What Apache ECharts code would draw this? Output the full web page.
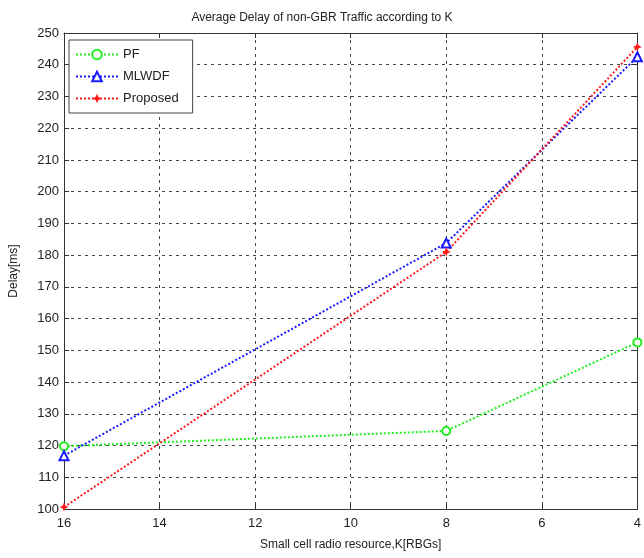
<!DOCTYPE html>
<html>
<head>
<meta charset="utf-8">
<script src="https://cdn.jsdelivr.net/npm/echarts@6/dist/echarts.min.js"></script>
<style>
  html, body { margin: 0; padding: 0; background: #fff; }
  #chart { width: 644px; height: 558px; }
</style>
</head>
<body>
<div id="chart"></div>
<script>
// Number of small cell RBGs (x) and the measured average delays (ms)
const kValues = [16, 8, 4];
const pfDelay = [119.8, 124.6, 152.5];
const mlwdfDelay = [116.8, 183.8, 242.5];
const proposedDelay = [100.6, 181.0, 245.6];

const xTicks = [16, 14, 12, 10, 8, 6, 4];
const yTicks = [100, 110, 120, 130, 140, 150, 160, 170, 180, 190, 200, 210, 220, 230, 240, 250];

const pairs = (ys) => kValues.map((k, i) => [k, ys[i]]);

const FONT = 'Liberation Sans, Arial, sans-serif';
const gridDash = { color: '#444', type: [3, 4], width: 1 };
const starPath = 'path://M0,-10 L3,-3 L10,0 L3,3 L0,10 L-3,3 L-10,0 L-3,-3 Z';

const chart = echarts.init(document.getElementById('chart'), null, { renderer: 'canvas' });

const baseX = {
  type: 'value', inverse: true,
  min: xTicks[xTicks.length - 1], max: xTicks[0], interval: 2,
  axisLine: { show: true, onZero: false, lineStyle: { color: '#333', width: 1 } },
  axisTick: { show: true, inside: true, length: 5, lineStyle: { color: '#333' } }
};
const baseY = {
  type: 'value',
  min: yTicks[0], max: yTicks[yTicks.length - 1], interval: 10,
  axisLine: { show: true, onZero: false, lineStyle: { color: '#333', width: 1 } },
  axisTick: { show: true, inside: true, length: 5, lineStyle: { color: '#333' } }
};

chart.setOption({
  animation: false,
  backgroundColor: '#fff',
  title: {
    text: 'Average Delay of non-GBR Traffic according to K',
    left: 'center', top: 7,
    textStyle: { fontFamily: FONT, fontSize: 12, fontWeight: 'normal', color: '#222' }
  },
  grid: { left: 64, right: 5, top: 33, bottom: 49, containLabel: false },
  legend: {
    orient: 'vertical', left: 69, top: 40,
    backgroundColor: '#fff', borderColor: '#444', borderWidth: 1,
    padding: [8, 14, 8, 6], itemGap: 9,
    itemWidth: 42, itemHeight: 12,
    textStyle: { fontFamily: FONT, fontSize: 13, color: '#222' },
    data: ['PF', 'MLWDF', 'Proposed']
  },
  xAxis: [
    Object.assign({}, baseX, {
      position: 'bottom',
      name: 'Small cell radio resource,K[RBGs]',
      nameLocation: 'middle', nameGap: 30,
      nameTextStyle: { fontFamily: FONT, fontSize: 12, color: '#222' },
      axisLabel: { fontFamily: FONT, fontSize: 13, color: '#222', margin: 8 },
      splitLine: { show: true, lineStyle: gridDash }
    }),
    Object.assign({}, baseX, {
      position: 'top', axisLabel: { show: false }, splitLine: { show: false }
    })
  ],
  yAxis: [
    Object.assign({}, baseY, {
      position: 'left',
      name: 'Delay[ms]',
      nameLocation: 'middle', nameGap: 44,
      nameTextStyle: { fontFamily: FONT, fontSize: 12, color: '#222' },
      axisLabel: { fontFamily: FONT, fontSize: 13, color: '#222', margin: 5 },
      splitLine: { show: true, lineStyle: gridDash }
    }),
    Object.assign({}, baseY, {
      position: 'right', axisLabel: { show: false }, splitLine: { show: false }
    })
  ],
  series: [
    {
      name: 'PF', type: 'line', data: pairs(pfDelay),
      symbol: 'emptyCircle', symbolSize: 8,
      lineStyle: { color: '#22ee22', width: 2, type: [2, 2] },
      itemStyle: { color: '#22ee22', borderWidth: 2 }
    },
    {
      name: 'MLWDF', type: 'line', data: pairs(mlwdfDelay),
      symbol: 'emptyTriangle', symbolSize: 9,
      lineStyle: { color: '#1a1aff', width: 2, type: [2, 2] },
      itemStyle: { color: '#1a1aff', borderWidth: 1.5 }
    },
    {
      name: 'Proposed', type: 'line', data: pairs(proposedDelay),
      symbol: starPath, symbolSize: 9,
      lineStyle: { color: '#ff1a1a', width: 2, type: [2, 2] },
      itemStyle: { color: '#ff1a1a' }
    }
  ]
});
</script>
</body>
</html>
